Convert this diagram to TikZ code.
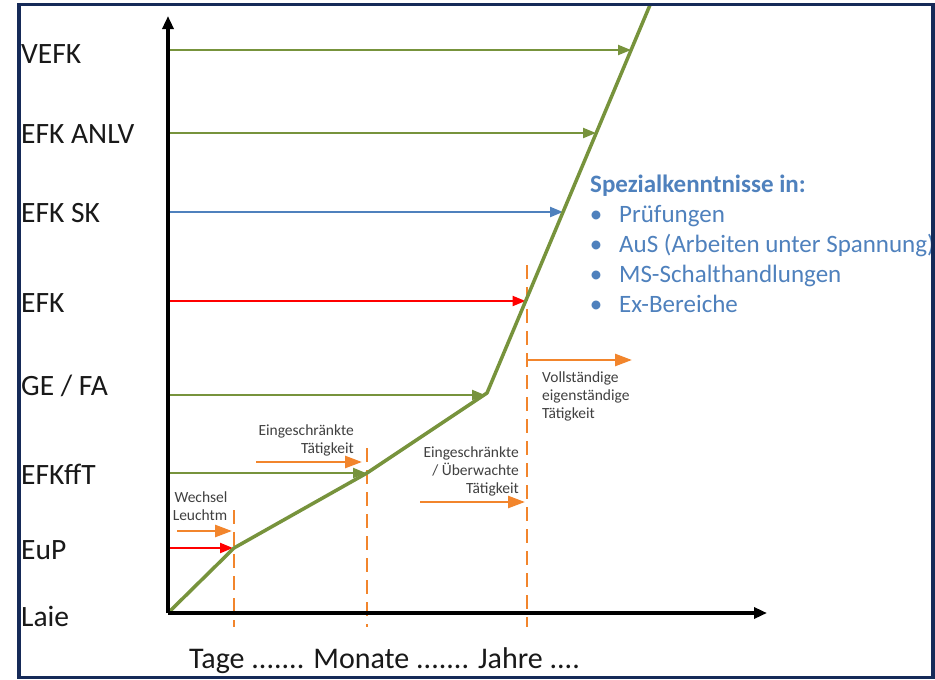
\documentclass[tikz,border=0pt]{standalone}
\usepackage{fontspec}
\setmainfont{Carlito}
\usetikzlibrary{arrows.meta}
\definecolor{frameblue}{RGB}{22,42,88}
\definecolor{lgreen}{RGB}{119,147,60}
\definecolor{lblue}{RGB}{79,129,189}
\definecolor{lred}{RGB}{255,0,0}
\definecolor{lorange}{RGB}{242,133,44}
\definecolor{txtgray}{RGB}{64,64,64}
\begin{document}
\begin{tikzpicture}[x=1pt,y=-1pt,
  lvl/.style={anchor=base west, inner sep=0pt, font=\fontsize{29.5}{34}\selectfont, text=black!90},
  small/.style={inner sep=0pt, font=\fontsize{15.5}{18}\selectfont, text=txtgray},
  spec/.style={anchor=base west, inner sep=0pt, font=\fontsize{25}{30}\selectfont, text=lblue},
  spectitle/.style={anchor=base west, inner sep=0pt, font=\fontsize{25}{30}\selectfont\bfseries, text=lblue},
  specbullet/.style={anchor=base, inner sep=0pt, font=\fontsize{25}{30}\selectfont, text=lblue},
  axisline/.style={line width=3.2pt, black, -{Triangle[length=13pt,width=11pt]}},
  harrow/.style={line width=2.2pt, -{Triangle[length=13pt,width=10pt]}},
  oarrow/.style={line width=2.6pt, lorange, -{Triangle[length=17pt,width=12pt]}},
  dline/.style={line width=2.2pt, lorange, dash pattern=on 14pt off 8pt},
  ]
\useasboundingbox (0,0) rectangle (935,680);
\fill[white] (0,0) rectangle (935,680);

% coordinates
\coordinate (O) at (168,613);
\coordinate (ytop) at (168,16);
\coordinate (xend) at (767,613);
\coordinate (g1) at (234,548);
\coordinate (g2) at (367,473);
\coordinate (g3) at (487,393);
\coordinate (g4) at (650,5);

% dashed orange lines
\coordinate (d1a) at (234,510); \coordinate (d1b) at (234,627);
\coordinate (d2a) at (367,448); \coordinate (d2b) at (367,627);
\coordinate (d3a) at (527,265); \coordinate (d3b) at (527,627);
\draw[dline] (d1a) -- (d1b);
\draw[dline] (d2a) -- (d2b);
\draw[dline] (d3a) -- (d3b);

% horizontal arrows
\coordinate (s1) at (170,50);  \coordinate (t1) at (631,50);
\coordinate (s2) at (170,133); \coordinate (t2) at (596,133);
\coordinate (s3) at (170,212); \coordinate (t3) at (563,212);
\coordinate (s4) at (170,301); \coordinate (t4) at (525.5,301);
\coordinate (s5) at (170,395); \coordinate (t5) at (485,395);
\coordinate (s6) at (170,473); \coordinate (t6) at (366,473);
\coordinate (s7) at (170,548); \coordinate (t7) at (233,548);
\draw[harrow, lgreen] (s1) -- (t1);
\draw[harrow, lgreen] (s2) -- (t2);
\draw[harrow, lblue] (s3) -- (t3);
\draw[harrow, lred] (s4) -- (t4);
\draw[harrow, lgreen] (s5) -- (t5);
\draw[harrow, lgreen] (s6) -- (t6);
\draw[harrow, lred] (s7) -- (t7);

% main green curve
\draw[lgreen, line width=3.5pt, line join=round] (O) -- (g1) -- (g2) -- (g3) -- (g4);

% axes
\draw[axisline] (O) -- (ytop);
\draw[axisline, line width=3.6pt] (O) -- (xend);

% orange arrows
\coordinate (o1a) at (177,531); \coordinate (o1b) at (232,531);
\coordinate (o2a) at (256,462); \coordinate (o2b) at (362,462);
\coordinate (o3a) at (420,502); \coordinate (o3b) at (525,502);
\coordinate (o4a) at (527,360); \coordinate (o4b) at (632,360);
\draw[oarrow] (o1a) -- (o1b);
\draw[oarrow] (o2a) -- (o2b);
\draw[oarrow] (o3a) -- (o3b);
\draw[oarrow] (o4a) -- (o4b);

% left labels
\node[lvl] (vefk) at (21,63) {VEFK};
\node[lvl] (anlv) at (21,143) {EFK ANLV};
\node[lvl] (efksk) at (21,222) {EFK SK};
\node[lvl] (efk) at (21,312) {EFK};
\node[lvl] (gefa) at (21,395) {GE / FA};
\node[lvl] (efkfft) at (21,484) {EFKffT};
\node[lvl] (eup) at (21,559) {EuP};
\node[lvl] (laie) at (21,626) {Laie};

% time axis label
\node[anchor=base west, inner sep=0pt, font=\fontsize{30}{36}\selectfont, text=black!90] (time) at (189,668) {Tage ....... Monate ....... Jahre ....};

% small labels
\node[small, anchor=base] (wech1) at (201,502) {Wechsel};
\node[small, anchor=base] (wech2) at (200,520) {Leuchtm};
\node[small, anchor=base east] (ein1a) at (354,435) {Eingeschränkte};
\node[small, anchor=base east] (ein1b) at (354,453) {Tätigkeit};
\node[small, anchor=base east] (ein2a) at (519,457) {Eingeschränkte};
\node[small, anchor=base east] (ein2b) at (519,475) {/ Überwachte};
\node[small, anchor=base east] (ein2c) at (519,493) {Tätigkeit};
\node[small, anchor=base west] (voll1) at (542,382) {Vollständige};
\node[small, anchor=base west] (voll2) at (542,400) {eigenständige};
\node[small, anchor=base west] (voll3) at (542,418) {Tätigkeit};

% special knowledge list
\node[spectitle] (spt) at (590,192) {Spezialkenntnisse in:};
\node[specbullet] (b1) at (596,222) {•};
\node[specbullet] (b2) at (596,252) {•};
\node[specbullet] (b3) at (596,282) {•};
\node[specbullet] (b4) at (596,312) {•};
\node[spec] (sp1) at (619,222) {Prüfungen};
\node[spec] (sp2) at (619,252) {AuS (Arbeiten unter Spannung)};
\node[spec] (sp3) at (619,282) {MS-Schalthandlungen};
\node[spec] (sp4) at (619,312) {Ex-Bereiche};

% frame
\fill[white] (0,0) rectangle (17,680);
\draw[frameblue, line width=3.5pt] (19,4.5) rectangle (933,677.5);
\end{tikzpicture}
\end{document}
